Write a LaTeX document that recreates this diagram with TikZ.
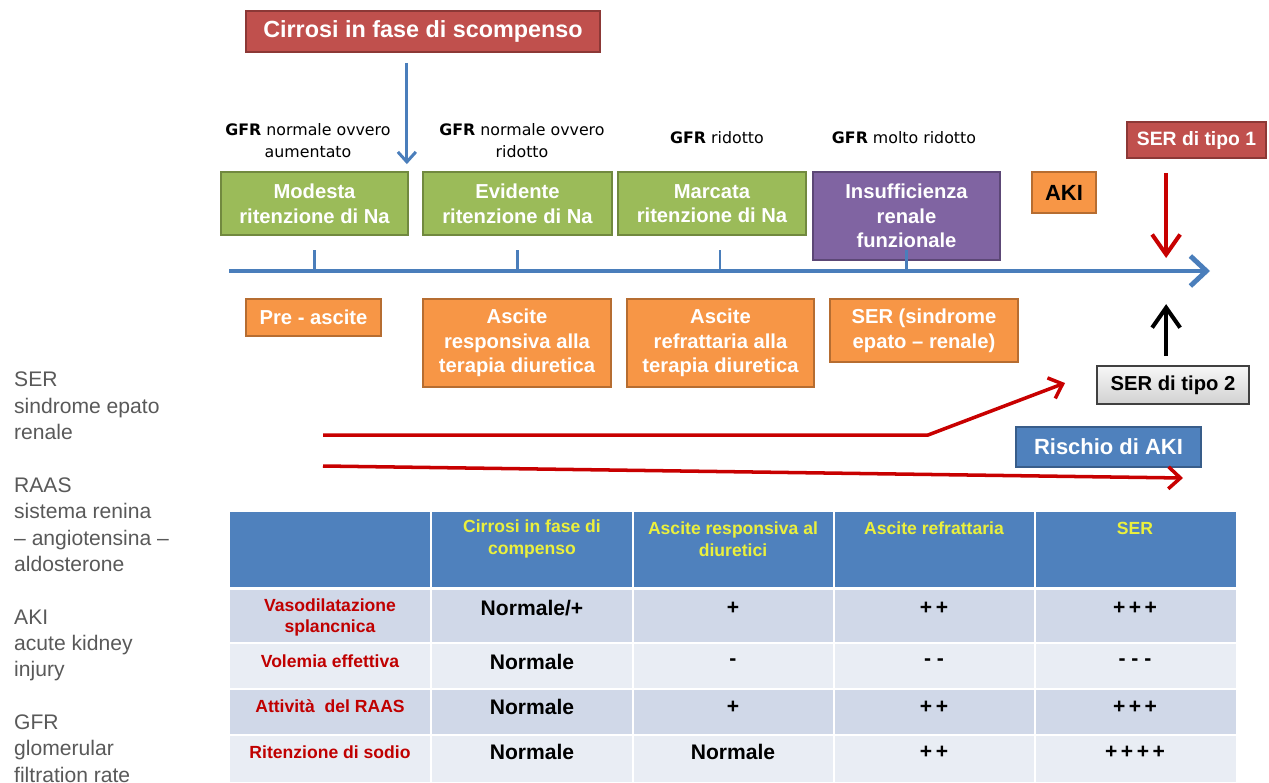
\documentclass[tikz,border=0pt]{standalone}
\usepackage{fontspec}
\setmainfont{Liberation Sans}
\newfontfamily\gfrfont{DejaVu Sans}
\usetikzlibrary{arrows.meta,positioning,calc}

\definecolor{tlblue}{RGB}{74,126,187}
\definecolor{boxblue}{RGB}{79,129,189}
\definecolor{boxblueb}{RGB}{56,93,138}
\definecolor{boxred}{RGB}{192,80,77}
\definecolor{boxredb}{RGB}{140,56,54}
\definecolor{boxgreen}{RGB}{155,187,89}
\definecolor{boxgreenb}{RGB}{113,137,63}
\definecolor{boxorange}{RGB}{247,150,70}
\definecolor{boxorangeb}{RGB}{182,109,49}
\definecolor{boxpurple}{RGB}{128,100,162}
\definecolor{boxpurpleb}{RGB}{92,71,118}
\definecolor{arrred}{RGB}{200,0,0}
\definecolor{rowdark}{RGB}{208,216,232}
\definecolor{rowlight}{RGB}{233,237,244}
\definecolor{hdryellow}{RGB}{235,240,60}
\definecolor{rowred}{RGB}{192,0,0}
\definecolor{notegray}{RGB}{89,89,89}

\tikzset{
  box/.style={draw, line width=1pt, inner sep=0pt, align=center, text=white,
    font=\fontsize{11.5}{14}\selectfont\bfseries},
  greenbox/.style={box, fill=boxgreen, draw=boxgreenb, minimum height=1.26cm},
  orangebox/.style={box, fill=boxorange, draw=boxorangeb},
  gfr/.style={align=center, font=\gfrfont\fontsize{9}{12.5}\selectfont},
  hdr/.style={align=center, text=hdryellow, font=\fontsize{10}{12.5}\selectfont\bfseries},
  rowlab/.style={align=center, text=rowred, font=\fontsize{10}{12}\selectfont\bfseries},
  val/.style={font=\fontsize{12}{14}\selectfont\bfseries},
  note/.style={anchor=north west, align=left, text=notegray, font=\fontsize{12}{15}\selectfont},
  thickarr/.style={line width=2.3pt, -{Straight Barb[length=0.4cm,width=0.56cm]}},
  thinarr/.style={arrred, line width=2pt, -{Straight Barb[length=0.24cm,width=0.44cm]}},
}

\begin{document}
\begin{tikzpicture}[x=0.02cm, y=-0.02cm]
\useasboundingbox (0,0) rectangle (1269,782);
\clip (0,0) rectangle (1269,782);

% legenda
\node[note] (notes) at (8,366) {SER\\sindrome epato\\renale\\[15pt]RAAS\\sistema renina\\– angiotensina –\\aldosterone\\[15pt]AKI\\acute kidney\\injury\\[15pt]GFR\\glomerular\\filtration rate};

% schema
\node[box, fill=boxred, draw=boxredb, minimum width=7.08cm, minimum height=0.82cm,
  font=\fontsize{13.3}{16}\selectfont\bfseries] (title) at (423,31.5) {Cirrosi in fase di scompenso};

\node[gfr] (g1) at (308,141) {\textbf{GFR} normale ovvero\\aumentato};
\node[gfr] (g2) at (522,141) {\textbf{GFR} normale ovvero\\ridotto};
\node[gfr] (g3) at (717,138) {\textbf{GFR} ridotto};
\node[gfr] (g4) at (904,138) {\textbf{GFR} molto ridotto};

\node[greenbox, minimum width=3.74cm] (mod) at (314.5,203.5) {Modesta\\ritenzione di Na};
\node[greenbox, minimum width=3.78cm] (evi) at (517.5,203.5) {Evidente\\ritenzione di Na};
\node[greenbox, minimum width=3.76cm] (mar) at (712,203.5) {Marcata\\ritenzione di Na};
\node[box, fill=boxpurple, draw=boxpurpleb, minimum width=3.74cm, minimum height=1.76cm]
  (ins) at (906.5,216) {Insufficienza\\renale\\funzionale};
\node[orangebox, text=black, minimum width=1.28cm, minimum height=0.82cm,
  font=\fontsize{12.5}{15}\selectfont\bfseries] (aki) at (1064,192.5) {AKI};
\node[box, fill=boxred, draw=boxredb, minimum width=2.78cm, minimum height=0.72cm,
  font=\fontsize{11}{13}\selectfont\bfseries] (ser1) at (1196.5,140) {SER di tipo 1};

\coordinate (tlstart) at (229,271);
\coordinate (tlend) at (1210,271);
\draw[tlblue, line width=2.8pt, -{Straight Barb[length=0.32cm,width=0.6cm]}] (tlstart) -- (tlend);
\foreach \b/\dx in {mod/0,evi/0,mar/8,ins/0}
  \draw[tlblue, line width=1.7pt] ($(\b.south |- tlstart)+(\dx,0)$) -- ++(0,-21);

\draw[tlblue, line width=1.7pt, -{Straight Barb[length=0.2cm,width=0.36cm]}]
  ($(title.south -| mod.east)+(-2,10)$) -- ($(mod.north east)+(-2,-7)$);
\draw[arrred, thickarr] ($(ser1.south west)+(40,14)$) -- ($(ser1.south west |- tlstart)+(40,-13)$);

\node[orangebox, minimum width=2.7cm, minimum height=0.74cm] (pre) at (313.5,317.5) {Pre - ascite};
\node[orangebox, minimum width=3.76cm, minimum height=1.76cm] (asr) at (517,343) {Ascite\\responsiva alla\\terapia diuretica};
\node[orangebox, minimum width=3.74cm, minimum height=1.76cm] (asf) at (720.5,343) {Ascite\\refrattaria alla\\terapia diuretica};
\node[orangebox, minimum width=3.76cm, minimum height=1.26cm] (sers) at (924,330.5) {SER (sindrome\\epato – renale)};

\node[box, top color=black!3, bottom color=black!18, draw=black!75, text=black,
  minimum width=3.04cm, minimum height=0.76cm] (ser2) at (1173,385) {SER di tipo 2};
\draw[black, thickarr] ($(ser2.north west)+(70,-9)$) -- ($(ser2.north west)+(70,-61)$);

\node[box, fill=boxblue, draw=boxblueb, minimum width=3.7cm, minimum height=0.8cm,
  font=\fontsize{12.5}{15}\selectfont\bfseries] (risk) at (1108.5,447) {Rischio di AKI};

\coordinate (r1s) at (323,435);
\coordinate (r1k) at (928,435);
\coordinate (r1e) at (1065,383);
\coordinate (r2s) at (323,466);
\coordinate (r2e) at (1183,478);
\draw[thinarr] (r1s) -- (r1k) -- (r1e);
\draw[thinarr] (r2s) -- (r2e);

% tabella
\fill[boxblue] (230,512) rectangle (1236,587);
\fill[rowdark] (230,590) rectangle (1236,643);
\fill[rowlight] (230,643) rectangle (1236,689);
\fill[rowdark] (230,689) rectangle (1236,735);
\fill[rowlight] (230,735) rectangle (1236,782);
\foreach \x in {431,633,834,1035}
  \draw[white, line width=1pt] (\x,512) -- (\x,782);
\foreach \y in {643,689,735}
  \draw[white, line width=1pt] (230,\y) -- (1236,\y);

\node[hdr] (h1) at (532,539) {Cirrosi in fase di\\compenso};
\node[hdr] (h2) at (733,539) {Ascite responsiva al\\diuretici};
\node[hdr] (h3) at (934,528) {Ascite refrattaria};
\node[hdr] (h4) at (1135,528) {SER};

\node[rowlab] (l1) at (330,617) {Vasodilatazione\\splancnica};
\node[rowlab] (l2) at (330,661) {Volemia effettiva};
\node[rowlab] (l3) at (330,706) {Attività \ del RAAS};
\node[rowlab] (l4) at (330,752) {Ritenzione di sodio};

\foreach \r/\y/\a/\b/\c/\d in {1/608/{Normale/+}/+/+\,+/+\,+\,+, 2/662/Normale/-/- -/- - -,
    3/707/Normale/+/+\,+/+\,+\,+, 4/752/Normale/Normale/+\,+/+\,+\,+\,+} {
  \node[val] (v\r a) at (532,\y) {\a};
  \node[val] (v\r b) at (733,\y) {\b};
  \node[val] (v\r c) at (934,\y) {\c};
  \node[val] (v\r d) at (1135,\y) {\d};
}
\end{tikzpicture}
\end{document}
